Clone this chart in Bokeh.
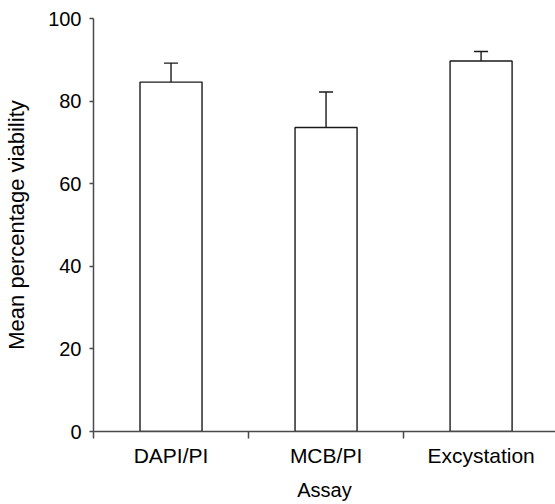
from bokeh.plotting import figure
from bokeh.models import Range1d, FixedTicker, ColumnDataSource, Whisker, TeeHead
from bokeh.embed import file_html
from bokeh.resources import INLINE

categories = ["DAPI/PI", "MCB/PI", "Excystation"]
means = [84.6, 73.6, 89.7]
errors = [4.6, 8.6, 2.3]
y_ticks = [0, 20, 40, 60, 80, 100]

xs = [i + 0.5 for i in range(len(categories))]
src = ColumnDataSource(dict(
    x=xs, top=means,
    upper=[m + e for m, e in zip(means, errors)],
))

FONT = "Liberation Sans"
AX = "#4a4a4a"

p = figure(width=555, height=504, output_backend="svg", toolbar_location=None,
           x_range=Range1d(0, 2.98), y_range=Range1d(0, 100),
           min_border_left=93, min_border_top=18, min_border_right=0,
           min_border_bottom=73)
p.outline_line_color = None
p.xgrid.visible = False
p.ygrid.visible = False

p.vbar(x="x", top="top", bottom=0, width=0.4, source=src,
       fill_color="white", line_color="#1a1a1a", line_width=1.4)

w = Whisker(base="x", lower="top", upper="upper", source=src,
            line_color="#1a1a1a", line_width=1.4,
            upper_head=TeeHead(size=14, line_color="#1a1a1a", line_width=1.4),
            lower_head=None)
p.add_layout(w)

xa = p.xaxis[0]
xa.ticker = FixedTicker(ticks=xs, minor_ticks=list(range(len(categories) + 1)))
xa.major_label_overrides = {x: c for x, c in zip(xs, categories)}
xa.major_tick_out = 0
xa.major_tick_in = 0
xa.minor_tick_out = 7
xa.minor_tick_in = 0
xa.minor_tick_line_color = AX
xa.minor_tick_line_width = 1.5
xa.axis_line_color = AX
xa.axis_line_width = 1.5
xa.major_label_standoff = 5
xa.major_label_text_font = FONT
xa.major_label_text_font_size = "21px"
xa.major_label_text_color = "black"
xa.axis_label = "Assay"
xa.axis_label_text_font = FONT
xa.axis_label_text_font_size = "20px"
xa.axis_label_text_font_style = "normal"
xa.axis_label_text_color = "black"
xa.axis_label_standoff = 9

ya = p.yaxis[0]
ya.ticker = FixedTicker(ticks=y_ticks, minor_ticks=[])
ya.major_tick_out = 4
ya.major_tick_in = 0
ya.major_tick_line_color = AX
ya.major_tick_line_width = 1.5
ya.axis_line_color = AX
ya.axis_line_width = 1.5
ya.major_label_standoff = 8
ya.major_label_text_font = FONT
ya.major_label_text_font_size = "20px"
ya.major_label_text_color = "black"
ya.axis_label = "Mean percentage viability"
ya.axis_label_text_font = FONT
ya.axis_label_text_font_size = "22px"
ya.axis_label_text_font_style = "normal"
ya.axis_label_text_color = "black"
ya.axis_label_standoff = 16

open("out.html", "w").write(file_html(p, INLINE))
